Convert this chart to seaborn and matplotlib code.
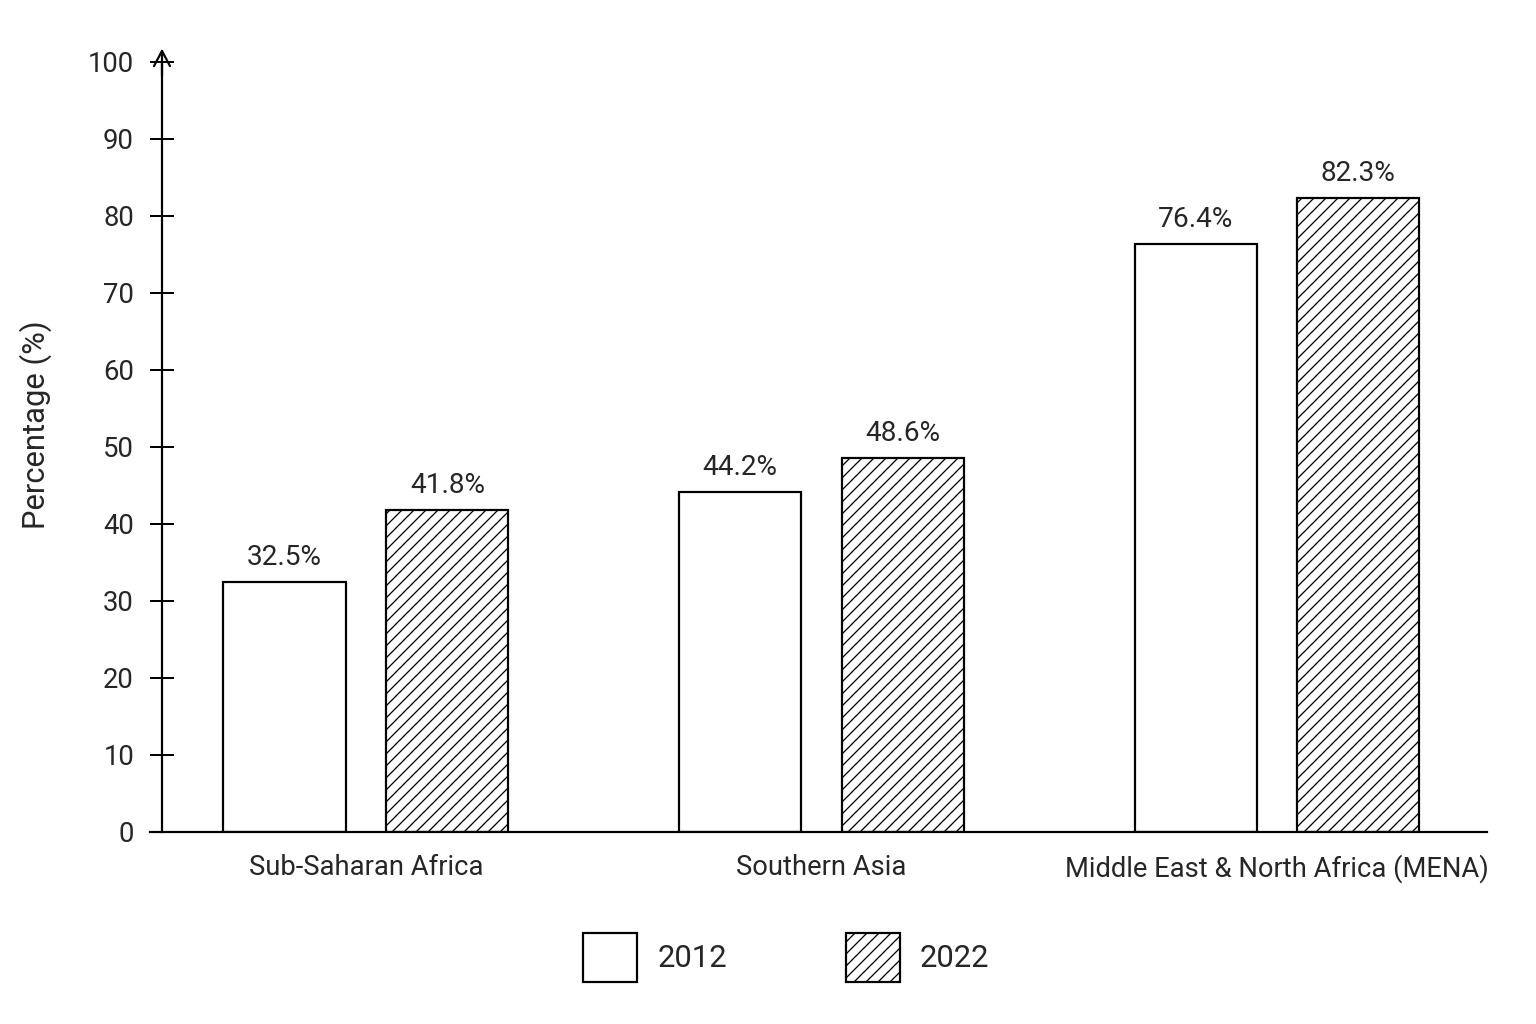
import pandas            as pd
import seaborn           as sns
import matplotlib.pyplot as plt
from matplotlib.patches import Patch


# Data
regions = ['Sub-Saharan Africa', 'Southern Asia', 'Middle East & North Africa (MENA)']
years   = ['2012', '2022']
v2012   = [32.5, 44.2, 76.4]
v2022   = [41.8, 48.6, 82.3]
yticks  = list(range(0, 101, 10))


df = pd.DataFrame({
  'region': regions * 2,
  'year':   [years[0]] * len(regions) + [years[1]] * len(regions),
  'value':  v2012 + v2022,
})

# Figure is drawn at 72 dpi so one point equals one pixel (also sets the hatch spacing)
DPI = 72
sns.set_theme(style='white')
plt.rcParams['font.family'] = ['Liberation Sans Narrow', 'Roboto', 'DejaVu Sans']
plt.rcParams['hatch.linewidth'] = 1.3

fig = plt.figure(figsize=(1536/DPI, 1024/DPI), dpi=DPI)
ax  = fig.add_axes([150/1536, 0.1875, 1337/1536, 0.752])

sns.barplot(data=df, x='region', y='value', hue='year', order=regions, hue_order=years,
            palette=['white', 'white'], width=0.715, gap=0.25, edgecolor='black',
            linewidth=2.2, legend=False, ax=ax)

# Hatch the 2022 bars and label all of them
hatches = ['', '//']
for cont, h in zip(ax.containers, hatches):
  for bar in cont:
    bar.set_hatch(h)
    bar.set_edgecolor('black')
  ax.bar_label(cont, fmt='%.1f%%', padding=11, fontsize=28)

ax.set_xlim(-0.474, 2.461)
ax.set_ylim(0, 100)
ax.set_yticks(yticks)
ax.set_xlabel('')
ax.set_ylabel('Percentage (%)', fontsize=31)
ax.yaxis.set_label_coords(-0.073, 0.529)

# Spines: bottom line plus left axis with an arrow head
for side in ['top', 'right']:
  ax.spines[side].set_visible(False)
x0 = 12/1337
ax.spines['left'].set_position(('axes', x0))
for side in ['left', 'bottom']:
  ax.spines[side].set_color('black')
  ax.spines[side].set_linewidth(2.2)
ax.annotate('', xy=(x0, 1.02), xytext=(x0, 0.98), xycoords='axes fraction',
            arrowprops=dict(arrowstyle='->,head_length=0.38,head_width=0.2', lw=2.2,
                            color='black', mutation_scale=40))

ax.tick_params(axis='y', direction='inout', length=24, width=2, color='black',
               labelsize=27.5, pad=16, left=True)
ax.tick_params(axis='x', length=0, labelsize=27.4, pad=22)

# Legend below the plot
handles = [Patch(facecolor='white', edgecolor='black', linewidth=2.2, hatch=h) for h in hatches]
fig.legend(handles, years, loc='center', bbox_to_anchor=(0.512, 0.065), ncol=2, frameon=False,
           fontsize=31, handlelength=1.73, handleheight=2.04, handletextpad=0.65, columnspacing=3.85)

plt.savefig('out.png', dpi=DPI)
plt.close()
